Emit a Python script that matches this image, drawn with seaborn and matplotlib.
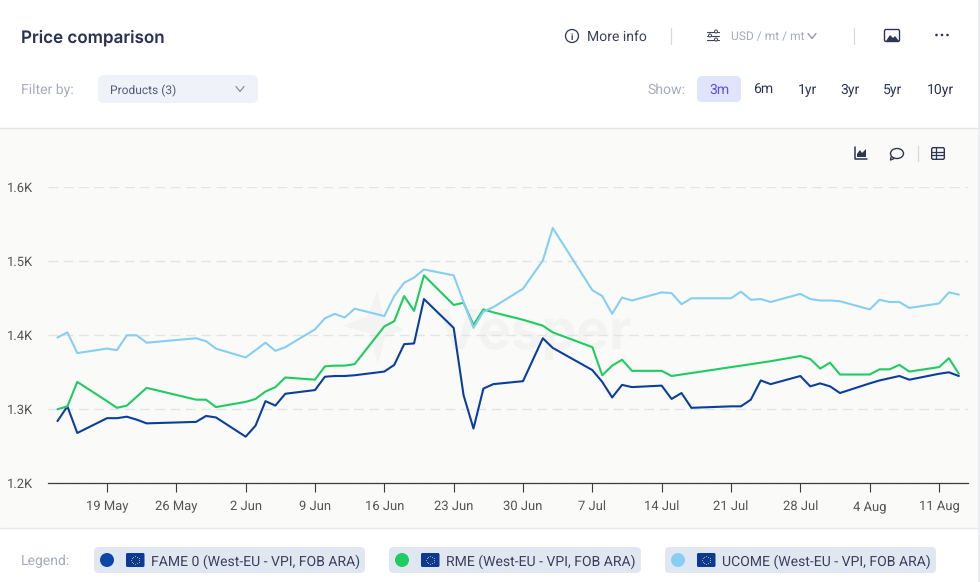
import numpy as np
import pandas as pd
import matplotlib
matplotlib.use("Agg")
import matplotlib.pyplot as plt
import matplotlib.dates as mdates
from matplotlib.patches import FancyBboxPatch, Rectangle, Circle, Polygon, Ellipse
from matplotlib.ticker import FuncFormatter
import seaborn as sns

# values
dates = ["05-14", "05-15", "05-16",
         "05-19", "05-20", "05-21", "05-22", "05-23",
         "05-28", "05-29", "05-30",
         "06-02", "06-03", "06-04", "06-05", "06-06",
         "06-09", "06-10", "06-11", "06-12", "06-13",
         "06-16", "06-17", "06-18", "06-19", "06-20",
         "06-23", "06-24", "06-25", "06-26", "06-27",
         "06-30", "07-02", "07-03",
         "07-07", "07-08", "07-09", "07-10", "07-11",
         "07-14", "07-15", "07-16", "07-17",
         "07-21", "07-22", "07-23", "07-24", "07-25",
         "07-28", "07-29", "07-30", "07-31", "08-01",
         "08-04", "08-05", "08-06", "08-07", "08-08",
         "08-11", "08-12", "08-13"]
fame = [1284, 1304, 1268,
        1288, 1288, 1290, 1286, 1281,
        1283, 1291, 1289,
        1263, 1278, 1311, 1305, 1321,
        1326, 1344, 1345, 1345, 1346,
        1351, 1360, 1388, 1389, 1449,
        1410, 1319, 1274, 1328, 1334,
        1338, 1396, 1383,
        1353, 1337, 1316, 1333, 1330,
        1332, 1314, 1322, 1302,
        1304, 1304, 1313, 1339, 1334,
        1345, 1331, 1335, 1331, 1322,
        1335, 1339, 1342, 1345, 1340,
        1348, 1350, 1345]
rme = [1300, 1304, 1337,
       1311, 1302, 1305, 1317, 1329,
       1313, 1313, 1303,
       1310, 1314, 1324, 1330, 1343,
       1340, 1358, 1359, 1359, 1361,
       1412, 1419, 1453, 1433, 1481,
       1441, 1444, 1414, 1435, 1431,
       1421, 1413, 1404,
       1384, 1346, 1359, 1367, 1352,
       1352, 1345, 1347, 1349,
       1357, 1359, 1361, 1363, 1365,
       1372, 1368, 1355, 1363, 1347,
       1347, 1354, 1354, 1360, 1351,
       1357, 1369, 1348]
ucome = [1397, 1404, 1376,
         1382, 1380, 1400, 1400, 1390,
         1396, 1392, 1382,
         1370, 1380, 1390, 1379, 1384,
         1408, 1423, 1429, 1424, 1436,
         1426, 1453, 1471, 1478, 1489,
         1481, 1445, 1410, 1432, 1438,
         1463, 1501, 1545,
         1461, 1453, 1429, 1451, 1447,
         1458, 1457, 1442, 1450,
         1450, 1459, 1448, 1449, 1445,
         1456, 1449, 1447, 1447, 1446,
         1435, 1448, 1445, 1445, 1437,
         1443, 1458, 1455]
series_names = ["FAME 0 (West-EU - VPI, FOB ARA)", "RME (West-EU - VPI, FOB ARA)", "UCOME (West-EU - VPI, FOB ARA)"]
series_colors = ["#0b3f9e", "#1fcb62", "#86cff2"]
tick_dates = ["05-19", "05-26", "06-02", "06-09", "06-16", "06-23", "06-30",
              "07-07", "07-14", "07-21", "07-28", "08-04", "08-11"]
y_ticks = [1200, 1300, 1400, 1500, 1600]
range_labels = ["3m", "6m", "1yr", "3yr", "5yr", "10yr"]

W, H = 980, 582
sns.set_theme(style="white")
plt.rcParams["font.family"] = ["Roboto", "DejaVu Sans"]
plt.rcParams["text.hinting"] = "none"
plt.rcParams["text.hinting_factor"] = 1

df = pd.DataFrame({"date": pd.to_datetime(["2025-" + d for d in dates]),
                   series_names[0]: fame, series_names[1]: rme, series_names[2]: ucome})
long_df = df.melt("date", var_name="product", value_name="price")

fig = plt.figure(figsize=(W / 100, H / 100), dpi=100, facecolor="white")

# pixel space layers for the page around the chart
bg = fig.add_axes([0, 0, 1, 1], zorder=0)
bg.set_xlim(0, W)
bg.set_ylim(H, 0)
bg.axis("off")
top = fig.add_axes([0, 0, 1, 1], zorder=5)
top.set_xlim(0, W)
top.set_ylim(H, 0)
top.axis("off")
top.patch.set_alpha(0)


def px(size):
    return size * 0.72


def txt(x, y, s, size, color, ha="left", weight="normal", family=None):
    top.text(x, y, s, fontsize=px(size), color=color, ha=ha, va="center_baseline",
             fontweight=weight, family=family or ["Roboto", "DejaVu Sans"])


def box(ax, x0, y0, x1, y1, color, r=5):
    ax.add_patch(FancyBboxPatch((x0 + r, y0 + r), x1 - x0 - 2 * r, y1 - y0 - 2 * r,
                                boxstyle=f"round,pad={r},rounding_size={r}", fc=color, ec="none"))


def chevron(x, y, w, h, color):
    top.plot([x - w, x, x + w], [y - h, y + h, y - h], color=color, lw=0.9)


bg.add_patch(Rectangle((0, 128), 978, 400, fc="#fafaf8", ec="none"))
bg.plot([0, 978], [127.7, 127.7], color="#e4e4e4", lw=1)
bg.plot([0, 978], [528, 528], color="#e8e8ec", lw=1)
bg.add_patch(Rectangle((978, 0), 2, H, fc="#eceef4", ec="none"))

# faint watermark
bg.add_patch(Polygon([(377, 291), (384, 318), (404, 330), (385, 336), (378, 364),
                      (370, 333), (342, 326), (368, 316)], fc="#f3f3f1", ec="none"))
bg.text(438, 349, "Vesper", fontsize=px(55), color="#f3f3f1", fontweight="bold",
        family="Inter", va="baseline", ha="left")

# chart
left, right, ytop, ybot = 48, 968, 187.3, 483.3
ax = fig.add_axes([left / W, 1 - ybot / H, (right - left) / W, (ybot - ytop) / H], zorder=2)
ax.patch.set_alpha(0)
sns.lineplot(data=long_df, x="date", y="price", hue="product", hue_order=series_names,
             palette=series_colors, linewidth=1.5, legend=False, ax=ax, zorder=3)
ref = mdates.date2num(pd.Timestamp("2025-05-19"))
ax.set_xlim(ref + (left - 107) / 9.905, ref + (right - 107) / 9.905)
ax.set_ylim(1200, 1600)
ax.set_xticks(pd.to_datetime(["2025-" + d for d in tick_dates]))
ax.xaxis.set_major_formatter(mdates.DateFormatter("%-d %b"))
ax.set_yticks(y_ticks)
ax.yaxis.set_major_formatter(FuncFormatter(lambda v, _: f"{v / 1000:.1f}K"))
ax.set_xlabel("")
ax.set_ylabel("")
ax.grid(axis="y", color="#e4e4e2", lw=1, dashes=(7, 4))
ax.set_axisbelow(True)
sns.despine(ax=ax, left=True, top=True, right=True)
ax.spines["bottom"].set_color("#3c3c3c")
ax.spines["bottom"].set_linewidth(0.9)
ax.tick_params(axis="x", length=6.5, width=0.8, color="#3c3c3c", pad=12.7, labelsize=px(12.6), labelcolor="#555555", bottom=True)
ax.tick_params(axis="y", length=0, pad=10.5, labelsize=px(12.8), labelcolor="#555555")
for label in ax.get_xticklabels():
    label.set_verticalalignment("baseline")

# header
txt(21, 35.5, "Price comparison", 17, "#2b3354", weight="semibold", family=["Inter", "DejaVu Sans"])
txt(21, 89, "Filter by:", 14, "#a8abbc")
box(bg, 98, 75, 258, 103, "#eff2f8", 6)
txt(110, 89, "Products (3)", 12, "#565b7a")
chevron(240, 89, 4, 2.5, "#8a8ea6")

top.add_patch(Circle((572, 36), 6.5, fc="none", ec="#2f3555", lw=0.9))
txt(572, 36.5, "i", 9, "#2f3555", ha="center", weight="bold")
txt(587, 36, "More info", 13.8, "#3b405f")
top.plot([670.5, 670.5], [28, 44], color="#d6d9e2", lw=0.9)
for yy, xx in zip([31.5, 35.5, 39.5], [716, 710, 716]):
    top.plot([707, 719], [yy, yy], color="#3b405f", lw=0.8)
    top.add_patch(Circle((xx, yy), 1.5, fc="white", ec="#3b405f", lw=0.7, zorder=4))
txt(731, 36, "USD / mt / mt", 12.3, "#a8abbc")
chevron(812, 36, 4, 2.5, "#8a8ea6")
top.plot([853.5, 853.5], [28, 44], color="#d6d9e2", lw=0.9)
top.add_patch(FancyBboxPatch((885, 30), 14, 11, boxstyle="round,pad=0.5,rounding_size=1.5", fc="white", ec="#2f3555", lw=1))
top.add_patch(Polygon([(886, 41), (890, 35), (893, 38), (895, 36), (899, 41)], fc="#2f3555", ec="none"))
for xx in [936.5, 942, 947.5]:
    top.add_patch(Circle((xx, 35), 1.3, fc="#2f3555", ec="none"))

txt(647, 89, "Show:", 14, "#a8abbc")
box(bg, 697, 76, 741, 102, "#e0e5fb", 5)
for label, xx in zip(range_labels, [719, 763, 807, 850, 893, 940]):
    txt(xx, 89, label, 14, "#5b50f0" if label == "3m" else "#2f3555", ha="center")

# chart toolbar
top.plot([855, 855, 867], [147, 159, 159], color="#2f3555", lw=1.1)
top.add_patch(Polygon([(857, 157), (857, 154), (860, 150), (862, 153), (866, 149), (866, 157)], fc="#2f3555", ec="none"))
top.add_patch(Ellipse((897, 153.5), 13, 10, fc="none", ec="#2f3555", lw=1))
top.plot([891, 890.5, 894], [157, 160, 158.6], color="#2f3555", lw=1)
top.plot([917.5, 917.5], [146, 161], color="#d6d9e2", lw=0.9)
top.add_patch(FancyBboxPatch((932, 148), 12, 11, boxstyle="round,pad=0.3,rounding_size=1.5", fc="none", ec="#2f3555", lw=1))
for yy in [151.7, 155.4]:
    top.plot([932, 944], [yy, yy], color="#2f3555", lw=0.9)
top.plot([936, 936], [148, 159], color="#2f3555", lw=0.9)

# legend pills
txt(21, 560, "Legend:", 14.2, "#a8abbc")
pills = [(94, 365, 107, 126, 151), (389, 641, 402, 421, 446), (665, 936, 678, 697, 722)]
for name, color, (x0, x1, dot, flag, tx) in zip(series_names, series_colors, pills):
    box(bg, x0, 547, x1, 573, "#e1e7f0", 5)
    top.add_patch(Circle((dot, 560), 7, fc="#0b47a8" if color == series_colors[0] else color, ec="none"))
    box(top, flag, 553, flag + 18.5, 567, "#0b3a96", 1.5)
    angles = np.linspace(0, 2 * np.pi, 12, endpoint=False)
    top.scatter(flag + 9.3 + 4 * np.cos(angles), 560 + 4 * np.sin(angles), s=0.5, color="#c9b53a", linewidths=0, zorder=6)
    txt(tx, 560, name, 13.8, "#3b405f")

fig.savefig("out.png", dpi=100, facecolor="white")
